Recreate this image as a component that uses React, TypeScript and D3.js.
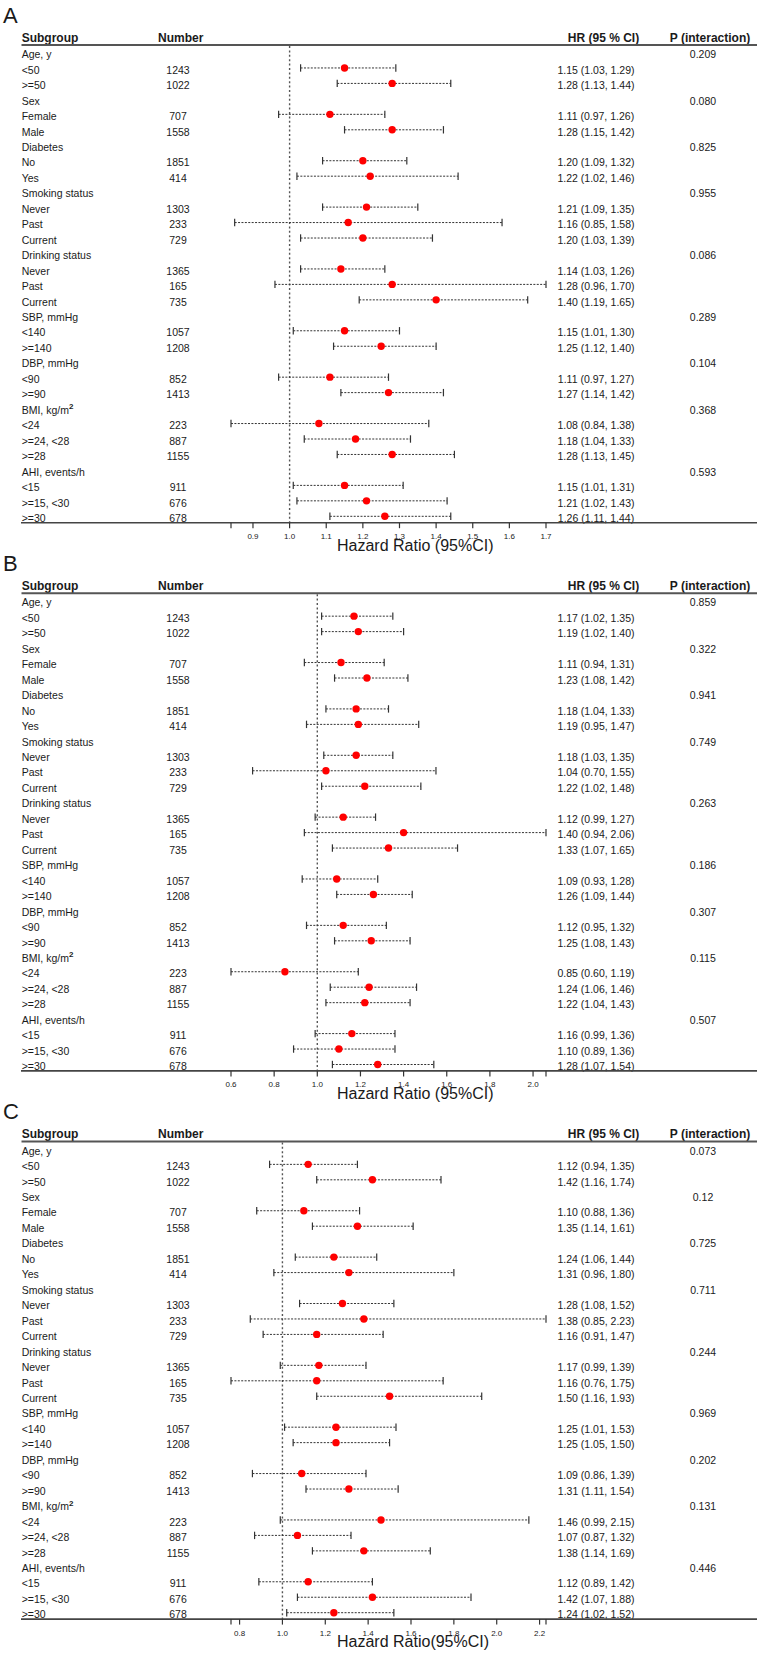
import React from "react";
import * as d3 from "d3";

// ---------- data ----------
const groups = [
  "Age, y",
  "Sex",
  "Diabetes",
  "Smoking status",
  "Drinking status",
  "SBP, mmHg",
  "DBP, mmHg",
  "BMI, kg/m",
  "AHI, events/h",
];
const subgroups = [
  ["<50", ">=50"],
  ["Female", "Male"],
  ["No", "Yes"],
  ["Never", "Past", "Current"],
  ["Never", "Past", "Current"],
  ["<140", ">=140"],
  ["<90", ">=90"],
  ["<24", ">=24, <28", ">=28"],
  ["<15", ">=15, <30", ">=30"],
];
const counts = [1243, 1022, 707, 1558, 1851, 414, 1303, 233, 729, 1365, 165, 735, 1057, 1208, 852, 1413, 223, 887, 1155, 911, 676, 678];

const hrA = [1.15, 1.28, 1.11, 1.28, 1.2, 1.22, 1.21, 1.16, 1.2, 1.14, 1.28, 1.4, 1.15, 1.25, 1.11, 1.27, 1.08, 1.18, 1.28, 1.15, 1.21, 1.26];
const loA = [1.03, 1.13, 0.97, 1.15, 1.09, 1.02, 1.09, 0.85, 1.03, 1.03, 0.96, 1.19, 1.01, 1.12, 0.97, 1.14, 0.84, 1.04, 1.13, 1.01, 1.02, 1.11];
const hiA = [1.29, 1.44, 1.26, 1.42, 1.32, 1.46, 1.35, 1.58, 1.39, 1.26, 1.7, 1.65, 1.3, 1.4, 1.27, 1.42, 1.38, 1.33, 1.45, 1.31, 1.43, 1.44];
const pA = ["0.209", "0.080", "0.825", "0.955", "0.086", "0.289", "0.104", "0.368", "0.593"];
const ticksA = [0.9, 1.0, 1.1, 1.2, 1.3, 1.4, 1.5, 1.6, 1.7];

const hrB = [1.17, 1.19, 1.11, 1.23, 1.18, 1.19, 1.18, 1.04, 1.22, 1.12, 1.4, 1.33, 1.09, 1.26, 1.12, 1.25, 0.85, 1.24, 1.22, 1.16, 1.1, 1.28];
const loB = [1.02, 1.02, 0.94, 1.08, 1.04, 0.95, 1.03, 0.7, 1.02, 0.99, 0.94, 1.07, 0.93, 1.09, 0.95, 1.08, 0.6, 1.06, 1.04, 0.99, 0.89, 1.07];
const hiB = [1.35, 1.4, 1.31, 1.42, 1.33, 1.47, 1.35, 1.55, 1.48, 1.27, 2.06, 1.65, 1.28, 1.44, 1.32, 1.43, 1.19, 1.46, 1.43, 1.36, 1.36, 1.54];
const pB = ["0.859", "0.322", "0.941", "0.749", "0.263", "0.186", "0.307", "0.115", "0.507"];
const ticksB = [0.6, 0.8, 1.0, 1.2, 1.4, 1.6, 1.8, 2.0];

const hrC = [1.12, 1.42, 1.1, 1.35, 1.24, 1.31, 1.28, 1.38, 1.16, 1.17, 1.16, 1.5, 1.25, 1.25, 1.09, 1.31, 1.46, 1.07, 1.38, 1.12, 1.42, 1.24];
const loC = [0.94, 1.16, 0.88, 1.14, 1.06, 0.96, 1.08, 0.85, 0.91, 0.99, 0.76, 1.16, 1.01, 1.05, 0.86, 1.11, 0.99, 0.87, 1.14, 0.89, 1.07, 1.02];
const hiC = [1.35, 1.74, 1.36, 1.61, 1.44, 1.8, 1.52, 2.23, 1.47, 1.39, 1.75, 1.93, 1.53, 1.5, 1.39, 1.54, 2.15, 1.32, 1.69, 1.42, 1.88, 1.52];
const pC = ["0.073", "0.12", "0.725", "0.711", "0.244", "0.969", "0.202", "0.131", "0.446"];
const ticksC = [0.8, 1.0, 1.2, 1.4, 1.6, 1.8, 2.0, 2.2];

const panelLetters = ["A", "B", "C"];
const axisTitles = ["Hazard Ratio (95%CI)", "Hazard Ratio (95%CI)", "Hazard Ratio(95%CI)"];

// ---------- layout ----------
const W = 757;
const H = 1653;
const PANEL_STEP = 548.2;
const ROW0 = 52.5;
const ROW_H = 15.46;
const FONT = "'Liberation Sans', Arial, Helvetica, sans-serif";
const TXT = "#1a1a1a";

type Row = { label: string; heading: boolean; p?: string; k?: number; group: number };

function buildRows(p: string[]): Row[] {
  const rows: Row[] = [];
  let k = 0;
  groups.forEach((g, gi) => {
    rows.push({ label: g, heading: true, p: p[gi], group: gi });
    subgroups[gi].forEach((s) => {
      rows.push({ label: s, heading: false, k: k++, group: gi });
    });
  });
  return rows;
}

function Panel({ idx, hr, lo, hi, p, ticks }: { idx: number; hr: number[]; lo: number[]; hi: number[]; p: string[]; ticks: number[] }) {
  const y0 = idx * PANEL_STEP;
  const rows = buildRows(p);
  const x = d3.scaleLinear().domain([d3.min(lo) as number, d3.max(hi) as number]).range([231, 546]);
  const [d0, d1] = x.domain();
  const rowY = (i: number) => y0 + ROW0 + ROW_H * i;
  const axisY = y0 + 522.7;
  const fmt = d3.format(".2f");
  const tickFmt = d3.format(".1f");
  const allTicks = Array.from(new Set([d0, ...ticks, d1]));
  return (
    <g>
      <text x={3} y={y0 + 23} fontSize={22} fontFamily={FONT} fill={TXT}>
        {panelLetters[idx]}
      </text>
      {/* header */}
      <g fontFamily={FONT} fontWeight="bold" fontSize={12} fill={TXT}>
        <text x={21.7} y={y0 + 41.5}>Subgroup</text>
        <text x={158} y={y0 + 41.5}>Number</text>
        <text x={603.5} y={y0 + 41.5} textAnchor="middle">HR (95 % CI)</text>
        <text x={710} y={y0 + 41.5} textAnchor="middle">P (interaction)</text>
      </g>
      <line x1={21.5} x2={W} y1={y0 + 45} y2={y0 + 45} stroke="#555" strokeWidth={2} />
      {/* reference line */}
      <line x1={x(1)} x2={x(1)} y1={y0 + 46} y2={axisY} stroke="#555" strokeWidth={1.4} strokeDasharray="2,2.4" />
      {/* rows */}
      {rows.map((r, i) => {
        const y = rowY(i);
        const ty = y + 5.7;
        if (r.heading) {
          const isBMI = r.label === "BMI, kg/m";
          return (
            <g key={i} fontFamily={FONT} fontSize={10.5} fill={TXT}>
              <text x={21.7} y={ty}>
                {r.label}
                {isBMI && (
                  <tspan fontSize={8} fontWeight="bold" dy={-4.5}>
                    2
                  </tspan>
                )}
              </text>
              <text x={703} y={ty} textAnchor="middle">
                {r.p}
              </text>
            </g>
          );
        }
        const k = r.k as number;
        return (
          <g key={i}>
            <g fontFamily={FONT} fontSize={10.5} fill={TXT}>
              <text x={21.7} y={ty}>{r.label}</text>
              <text x={178} y={ty} textAnchor="middle">{counts[k]}</text>
              <text x={596} y={ty} textAnchor="middle">
                {`${fmt(hr[k])} (${fmt(lo[k])}, ${fmt(hi[k])})`}
              </text>
            </g>
            <line x1={x(lo[k])} x2={x(hi[k])} y1={y} y2={y} stroke="#333" strokeWidth={1} strokeDasharray="2,1.4" />
            <line x1={x(lo[k])} x2={x(lo[k])} y1={y - 3.7} y2={y + 3.7} stroke="#333" strokeWidth={1.2} />
            <line x1={x(hi[k])} x2={x(hi[k])} y1={y - 3.7} y2={y + 3.7} stroke="#333" strokeWidth={1.2} />
            <circle cx={x(hr[k])} cy={y} r={3.7} fill="#ff0000" />
          </g>
        );
      })}
      {/* axis */}
      <line x1={21} x2={W} y1={axisY} y2={axisY} stroke="#444" strokeWidth={1.6} />
      {allTicks.map((t, i) => (
        <line key={i} x1={x(t)} x2={x(t)} y1={axisY} y2={axisY + 5.5} stroke="#333" strokeWidth={1.2} />
      ))}
      {ticks.map((t, i) => (
        <text key={i} x={x(t)} y={axisY + 16.5} textAnchor="middle" fontSize={8} fontFamily={FONT} fill={TXT}>
          {tickFmt(t)}
        </text>
      ))}
      <text x={337} y={y0 + 551} fontSize={16} fontFamily={FONT} fill={TXT}>
        {axisTitles[idx]}
      </text>
    </g>
  );
}

export default function App() {
  return (
    <svg
      width={W}
      height={H}
      viewBox={`0 0 ${W} ${H}`}
      style={{ position: "absolute", left: 0, top: 0, display: "block", background: "#fff" }}
    >
      <rect width={W} height={H} fill="#fff" />
      <Panel idx={0} hr={hrA} lo={loA} hi={hiA} p={pA} ticks={ticksA} />
      <Panel idx={1} hr={hrB} lo={loB} hi={hiB} p={pB} ticks={ticksB} />
      <Panel idx={2} hr={hrC} lo={loC} hi={hiC} p={pC} ticks={ticksC} />
    </svg>
  );
}
